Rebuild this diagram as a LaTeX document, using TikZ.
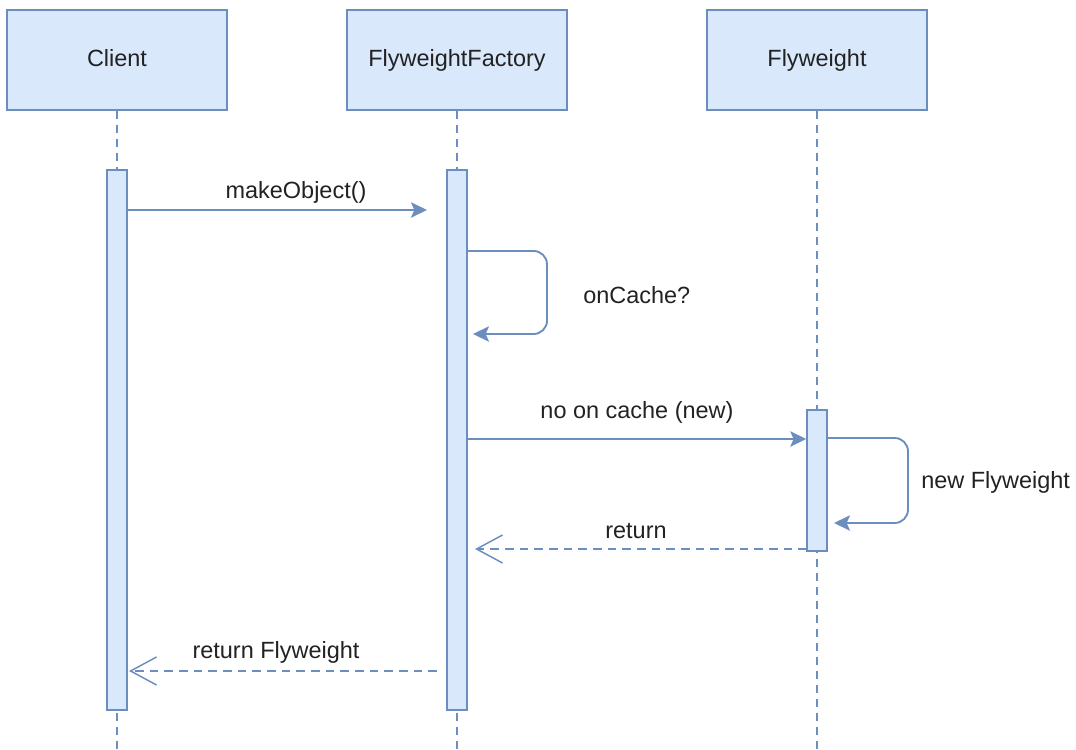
\documentclass[tikz,border=0pt]{standalone}
\usepackage{fontspec}
\setmainfont{Liberation Sans}
\usetikzlibrary{arrows.meta}
\definecolor{boxfill}{HTML}{DAE8FC}
\definecolor{boxline}{HTML}{6C8EBF}
\definecolor{txt}{HTML}{222222}
\begin{document}
\begin{tikzpicture}[x=0.75pt,y=-0.75pt,
  lbl/.style={font=\fontsize{17.6pt}{20pt}\selectfont, text=txt, inner sep=0pt},
  actor/.style={draw=boxline, fill=boxfill, line width=1.1pt, minimum width=165pt, minimum height=75pt, inner sep=0pt, text height=12.8pt, text depth=3.7pt, lbl},
  actbar/.style={draw=boxline, fill=boxfill, line width=1.1pt, minimum width=15pt, inner sep=0pt},
  lifeline/.style={draw=boxline, line width=1.1pt, dash pattern=on 6pt off 4.5pt},
  msg/.style={draw=boxline, line width=1.4pt, -{Stealth[length=12pt,width=11.5pt,inset=2.5pt]}},
  selfmsg/.style={msg, rounded corners=10pt},
  ret/.style={draw=boxline, line width=1.1pt, dash pattern=on 6.5pt off 4.5pt, -{Straight Barb[length=19.5pt,width=21pt,line width=1.1pt]}}
]
\useasboundingbox (0,0) rectangle (1076,750);

% actors
\node[actor] (client) at (117,60) {Client};
\node[actor] (factory) at (457,60) {FlyweightFactory};
\node[actor] (fly) at (817,60) {Flyweight};

% lifeline ends
\coordinate (clientEnd) at (117,750);
\coordinate (factoryEnd) at (457,750);
\coordinate (flyEnd) at (817,750);
\draw[lifeline] (client.south) -- (clientEnd);
\draw[lifeline] (factory.south) -- (factoryEnd);
\draw[lifeline] (fly.south) -- (flyEnd);

% activation bars
\node[actbar, minimum height=405pt] (ca) at (117,440) {};
\node[actbar, minimum height=405pt] (fa) at (457,440) {};
\node[actbar, minimum height=105.75pt] (wa) at (817,480.5) {};

% makeObject()
\coordinate (m1s) at (127,210);
\coordinate (m1e) at (427,210);
\draw[msg] (m1s) -- (m1e);
\node[lbl] (m1l) at (296,192) {makeObject()};

% onCache? self call
\coordinate (s1s) at (467,251);
\coordinate (s1e) at (473,334);
\draw[selfmsg] (s1s) -- (547,251) -- (547,334) -- (s1e);
\node[lbl, anchor=west] (s1l) at (583,295) {onCache?};

% no on cache (new)
\coordinate (m2s) at (467,439);
\draw[msg] (m2s) -- (wa.west |- m2s);
\node[lbl] (m2l) at (637,412) {no on cache (new)};

% new Flyweight self call
\coordinate (s2s) at (827,438);
\coordinate (s2e) at (834,523);
\draw[selfmsg] (s2s) -- (908,438) -- (908,523) -- (s2e);
\node[lbl, anchor=west] (s2l) at (921,482) {new Flyweight};

% return
\coordinate (r1s) at (807,549);
\coordinate (r1e) at (475,549);
\draw[ret] (r1s) -- (r1e);
\node[lbl] (r1l) at (636,531) {return};

% return Flyweight
\coordinate (r2s) at (437,671);
\coordinate (r2e) at (129,671);
\draw[ret] (r2s) -- (r2e);
\node[lbl] (r2l) at (276,652) {return Flyweight};
\end{tikzpicture}
\end{document}
